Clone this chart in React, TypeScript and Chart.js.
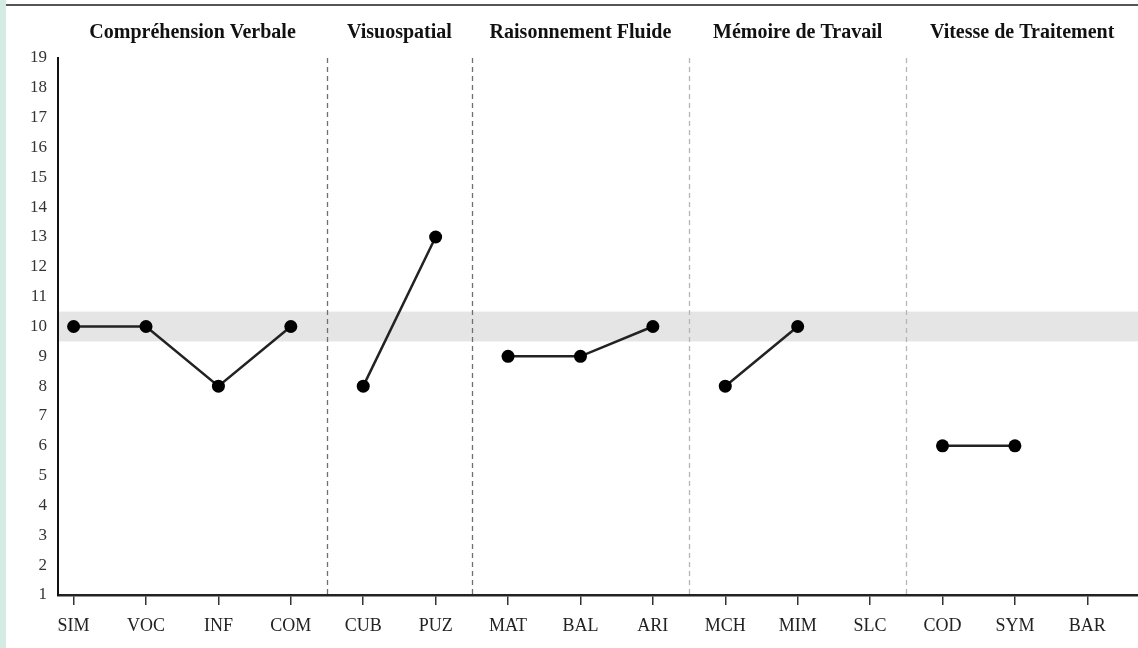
import React, { useEffect, useRef } from "react";
import { Chart, registerables } from "chart.js";

Chart.register(...registerables);

// ---- data ----
const subtests = ["SIM", "VOC", "INF", "COM", "CUB", "PUZ", "MAT", "BAL", "ARI", "MCH", "MIM", "SLC", "COD", "SYM", "BAR"];
const scores: (number | null)[] = [10, 10, 8, 10, 8, 13, 9, 9, 10, 8, 10, null, 6, 6, null];
const groupNames = ["Compréhension Verbale", "Visuospatial", "Raisonnement Fluide", "Mémoire de Travail", "Vitesse de Traitement"];
const groupSizes = [4, 2, 3, 3, 3];
const yMin = 1;
const yMax = 19;
const normalBand = [9.5, 10.5];

// ---- styles ----
const FONT = "'Liberation Serif', 'Times New Roman', serif";
const separatorColors = ["#6f6f6f", "#6f6f6f", "#b5b5b5", "#b5b5b5"];
const W = 1138;
const H = 648;

// group start indices
const groupStarts: number[] = [];
{
  let s = 0;
  for (const n of groupSizes) {
    groupStarts.push(s);
    s += n;
  }
}

const decorPlugin = {
  id: "decor",
  beforeDatasetsDraw(chart: any) {
    const { ctx, chartArea, scales } = chart;
    const x = scales.x;
    const y = scales.y;
    ctx.save();
    // normal band
    const yTop = y.getPixelForValue(normalBand[1]);
    const yBot = y.getPixelForValue(normalBand[0]);
    ctx.fillStyle = "#e5e5e5";
    ctx.fillRect(chartArea.left + 1, yTop, chartArea.right - chartArea.left - 1, yBot - yTop);
    // separators
    ctx.lineWidth = 1.3;
    ctx.setLineDash([5, 4]);
    for (let g = 1; g < groupStarts.length; g++) {
      const v = groupStarts[g] - 0.5;
      const px = Math.round(x.getPixelForValue(v)) + 0.5;
      ctx.strokeStyle = separatorColors[g - 1];
      ctx.beginPath();
      ctx.moveTo(px, chartArea.top);
      ctx.lineTo(px, chartArea.bottom - 1);
      ctx.stroke();
    }
    ctx.restore();
  },
  afterDraw(chart: any) {
    const { ctx, chartArea, scales } = chart;
    const x = scales.x;
    ctx.save();
    ctx.font = `bold 20px ${FONT}`;
    ctx.fillStyle = "#111";
    ctx.textAlign = "center";
    ctx.textBaseline = "middle";
    for (let g = 0; g < groupNames.length; g++) {
      const l = g === 0 ? chartArea.left : x.getPixelForValue(groupStarts[g] - 0.5);
      const r = g === groupNames.length - 1 ? chartArea.right : x.getPixelForValue(groupStarts[g + 1] - 0.5);
      ctx.fillText(groupNames[g], (l + r) / 2, 33);
    }
    ctx.restore();
  },
};

export default function App() {
  const ref = useRef<HTMLCanvasElement>(null);

  useEffect(() => {
    if (!ref.current) return;
    const datasets = groupNames.map((name, g) => {
      const pts: { x: number; y: number }[] = [];
      for (let i = groupStarts[g]; i < groupStarts[g] + groupSizes[g]; i++) {
        const v = scores[i];
        if (v !== null) pts.push({ x: i, y: v });
      }
      return {
        label: name,
        data: pts,
        borderColor: "#222",
        borderWidth: 2.5,
        pointRadius: 6.5,
        pointBackgroundColor: "#000",
        pointBorderWidth: 0,
        showLine: true,
        fill: false,
        tension: 0,
      };
    });

    const chart = new Chart(ref.current, {
      type: "line",
      data: { datasets },
      plugins: [decorPlugin],
      options: {
        animation: false,
        responsive: false,
        events: [],
        layout: { autoPadding: false, padding: { top: 58, left: 0, right: 0, bottom: 0 } },
        plugins: { legend: { display: false }, tooltip: { enabled: false } },
        scales: {
          x: {
            type: "linear",
            min: -0.2155,
            max: 14.70,
            afterBuildTicks: (scale: any) => {
              scale.ticks = subtests.map((_, i) => ({ value: i }));
            },
            afterFit: (scale: any) => {
              scale.height = H - 595;
            },
            grid: {
              drawOnChartArea: false,
              drawTicks: true,
              tickLength: 10,
              color: "#333",
              lineWidth: 1.5,
            },
            border: { color: "#222", width: 2.5 },
            ticks: {
              autoSkip: false,
              maxRotation: 0,
              padding: 10,
              color: "#222",
              font: { family: FONT, size: 18 },
              callback: (v: any) => subtests[Math.round(Number(v))] ?? "",
            },
          },
          y: {
            min: yMin,
            max: yMax,
            afterFit: (scale: any) => {
              scale.width = 58;
            },
            grid: { display: false, drawTicks: false },
            border: { color: "#111", width: 2 },
            ticks: {
              stepSize: 1,
              padding: 11,
              color: "#333",
              font: { family: FONT, size: 17 },
            },
          },
        },
      },
    });
    return () => chart.destroy();
  }, []);

  return (
    <div style={{ position: "fixed", left: 0, top: 0, width: W, height: H, background: "#fff", overflow: "hidden" }}>
      <div style={{ position: "absolute", left: 0, top: 0, width: 6, height: H, background: "#d3ebe3" }} />
      <div style={{ position: "absolute", left: 6, top: 4, width: W - 6, height: 2, background: "#555" }} />
      <canvas ref={ref} width={W} height={H} style={{ position: "absolute", left: 0, top: 0, width: W, height: H }} />
    </div>
  );
}
